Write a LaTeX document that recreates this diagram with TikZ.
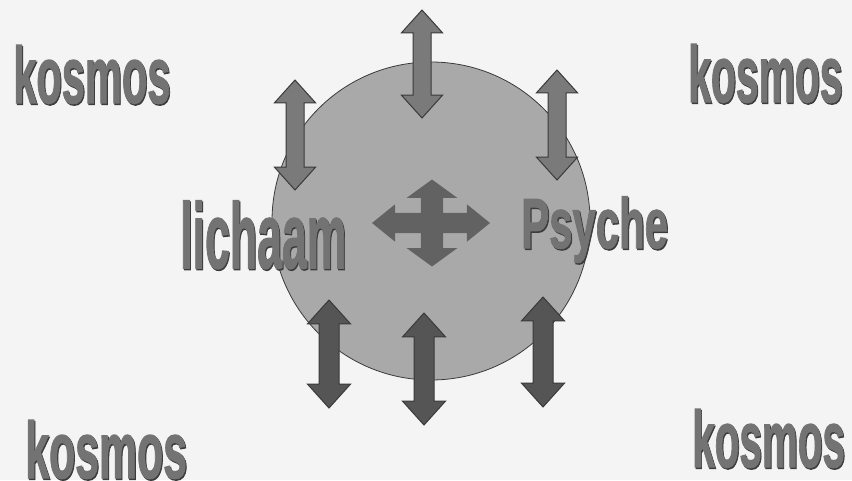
\documentclass[tikz,border=0pt]{standalone}
\usepackage{fontspec}
\setmainfont{Liberation Sans}
\newfontfamily\heavyfont[BoldFeatures={FakeBold=1.6}]{Liberation Sans}
\usetikzlibrary{shapes.arrows}
\definecolor{bgc}{HTML}{F4F4F4}
\definecolor{discc}{HTML}{A9A9A9}
\definecolor{topfill}{HTML}{7A7A7A}
\definecolor{botfill}{HTML}{555555}
\definecolor{crossfill}{HTML}{626262}
\definecolor{edgec}{HTML}{3A3A3A}
\definecolor{wordc}{HTML}{737373}
\definecolor{shadowc}{HTML}{3C3C3C}
\tikzset{
  vdbl/.style={double arrow, rotate=90, inner sep=0pt, text height=18pt, text depth=0pt,
    double arrow head extend=11.5pt, double arrow tip angle=84, draw=edgec, line width=1pt},
  topdbl/.style={vdbl, fill=topfill, text height=17pt, double arrow head extend=11.5pt},
  botdbl/.style={vdbl, fill=botfill, text height=19pt, double arrow head extend=11.5pt},
  crossdbl/.style={double arrow, inner sep=0pt, text depth=0pt, fill=crossfill, draw=none},
  word/.style={inner sep=0pt, anchor=base west, font=\heavyfont\bfseries, text=wordc},
}
\newcommand{\shadowed}[3]{% size, xscale, text
  \fontsize{#1}{#1}\selectfont\scalebox{#2}[1]{\rlap{\hspace{2pt}\raisebox{-1.5pt}{\textcolor{shadowc}{#3}}}#3}}
\begin{document}
\begin{tikzpicture}[x=1pt,y=-1pt]
\fill[bgc] (0,0) rectangle (852,480);
\useasboundingbox (0,0) rectangle (852,480);
% disc
\node[circle, minimum size=318pt, inner sep=0pt, fill=discc, draw=edgec, line width=0.8pt] (disc) at (431,221) {};
% words
\node[word] (kTL) at (13,103) {\shadowed{80}{0.52}{kosmos}};
\node[word] (kTR) at (688,102) {\shadowed{80}{0.51}{kosmos}};
\node[word] (kBL) at (25,478) {\shadowed{80}{0.535}{kosmos}};
\node[word] (kBR) at (692,467) {\shadowed{80}{0.505}{kosmos}};
\node[word] (body) at (180,268) {\shadowed{93}{0.48}{lichaam}};
\node[word] (psyche) at (521,248) {\shadowed{71}{0.59}{Psyche}};
% top arrows
\node[topdbl, minimum height=108pt] (aTC) at (422,64) {};
\node[topdbl, minimum height=110pt] (aTL) at (295,135) {};
\node[topdbl, minimum height=110pt] (aTR) at (557,125) {};
% bottom arrows
\node[botdbl, minimum height=108pt] (aBL) at (329,354) {};
\node[botdbl, minimum height=112pt] (aBC) at (424,369) {};
\node[botdbl, minimum height=110pt] (aBR) at (543,352) {};
% central cross
\node[crossdbl, text height=20pt, minimum height=118pt, double arrow head extend=8.5pt, double arrow tip angle=78] (crossH) at (431,223) {};
\node[crossdbl, rotate=90, text height=22pt, minimum height=87pt, double arrow head extend=14pt, double arrow tip angle=108] (crossV) at (432,223) {};
\end{tikzpicture}
\end{document}
